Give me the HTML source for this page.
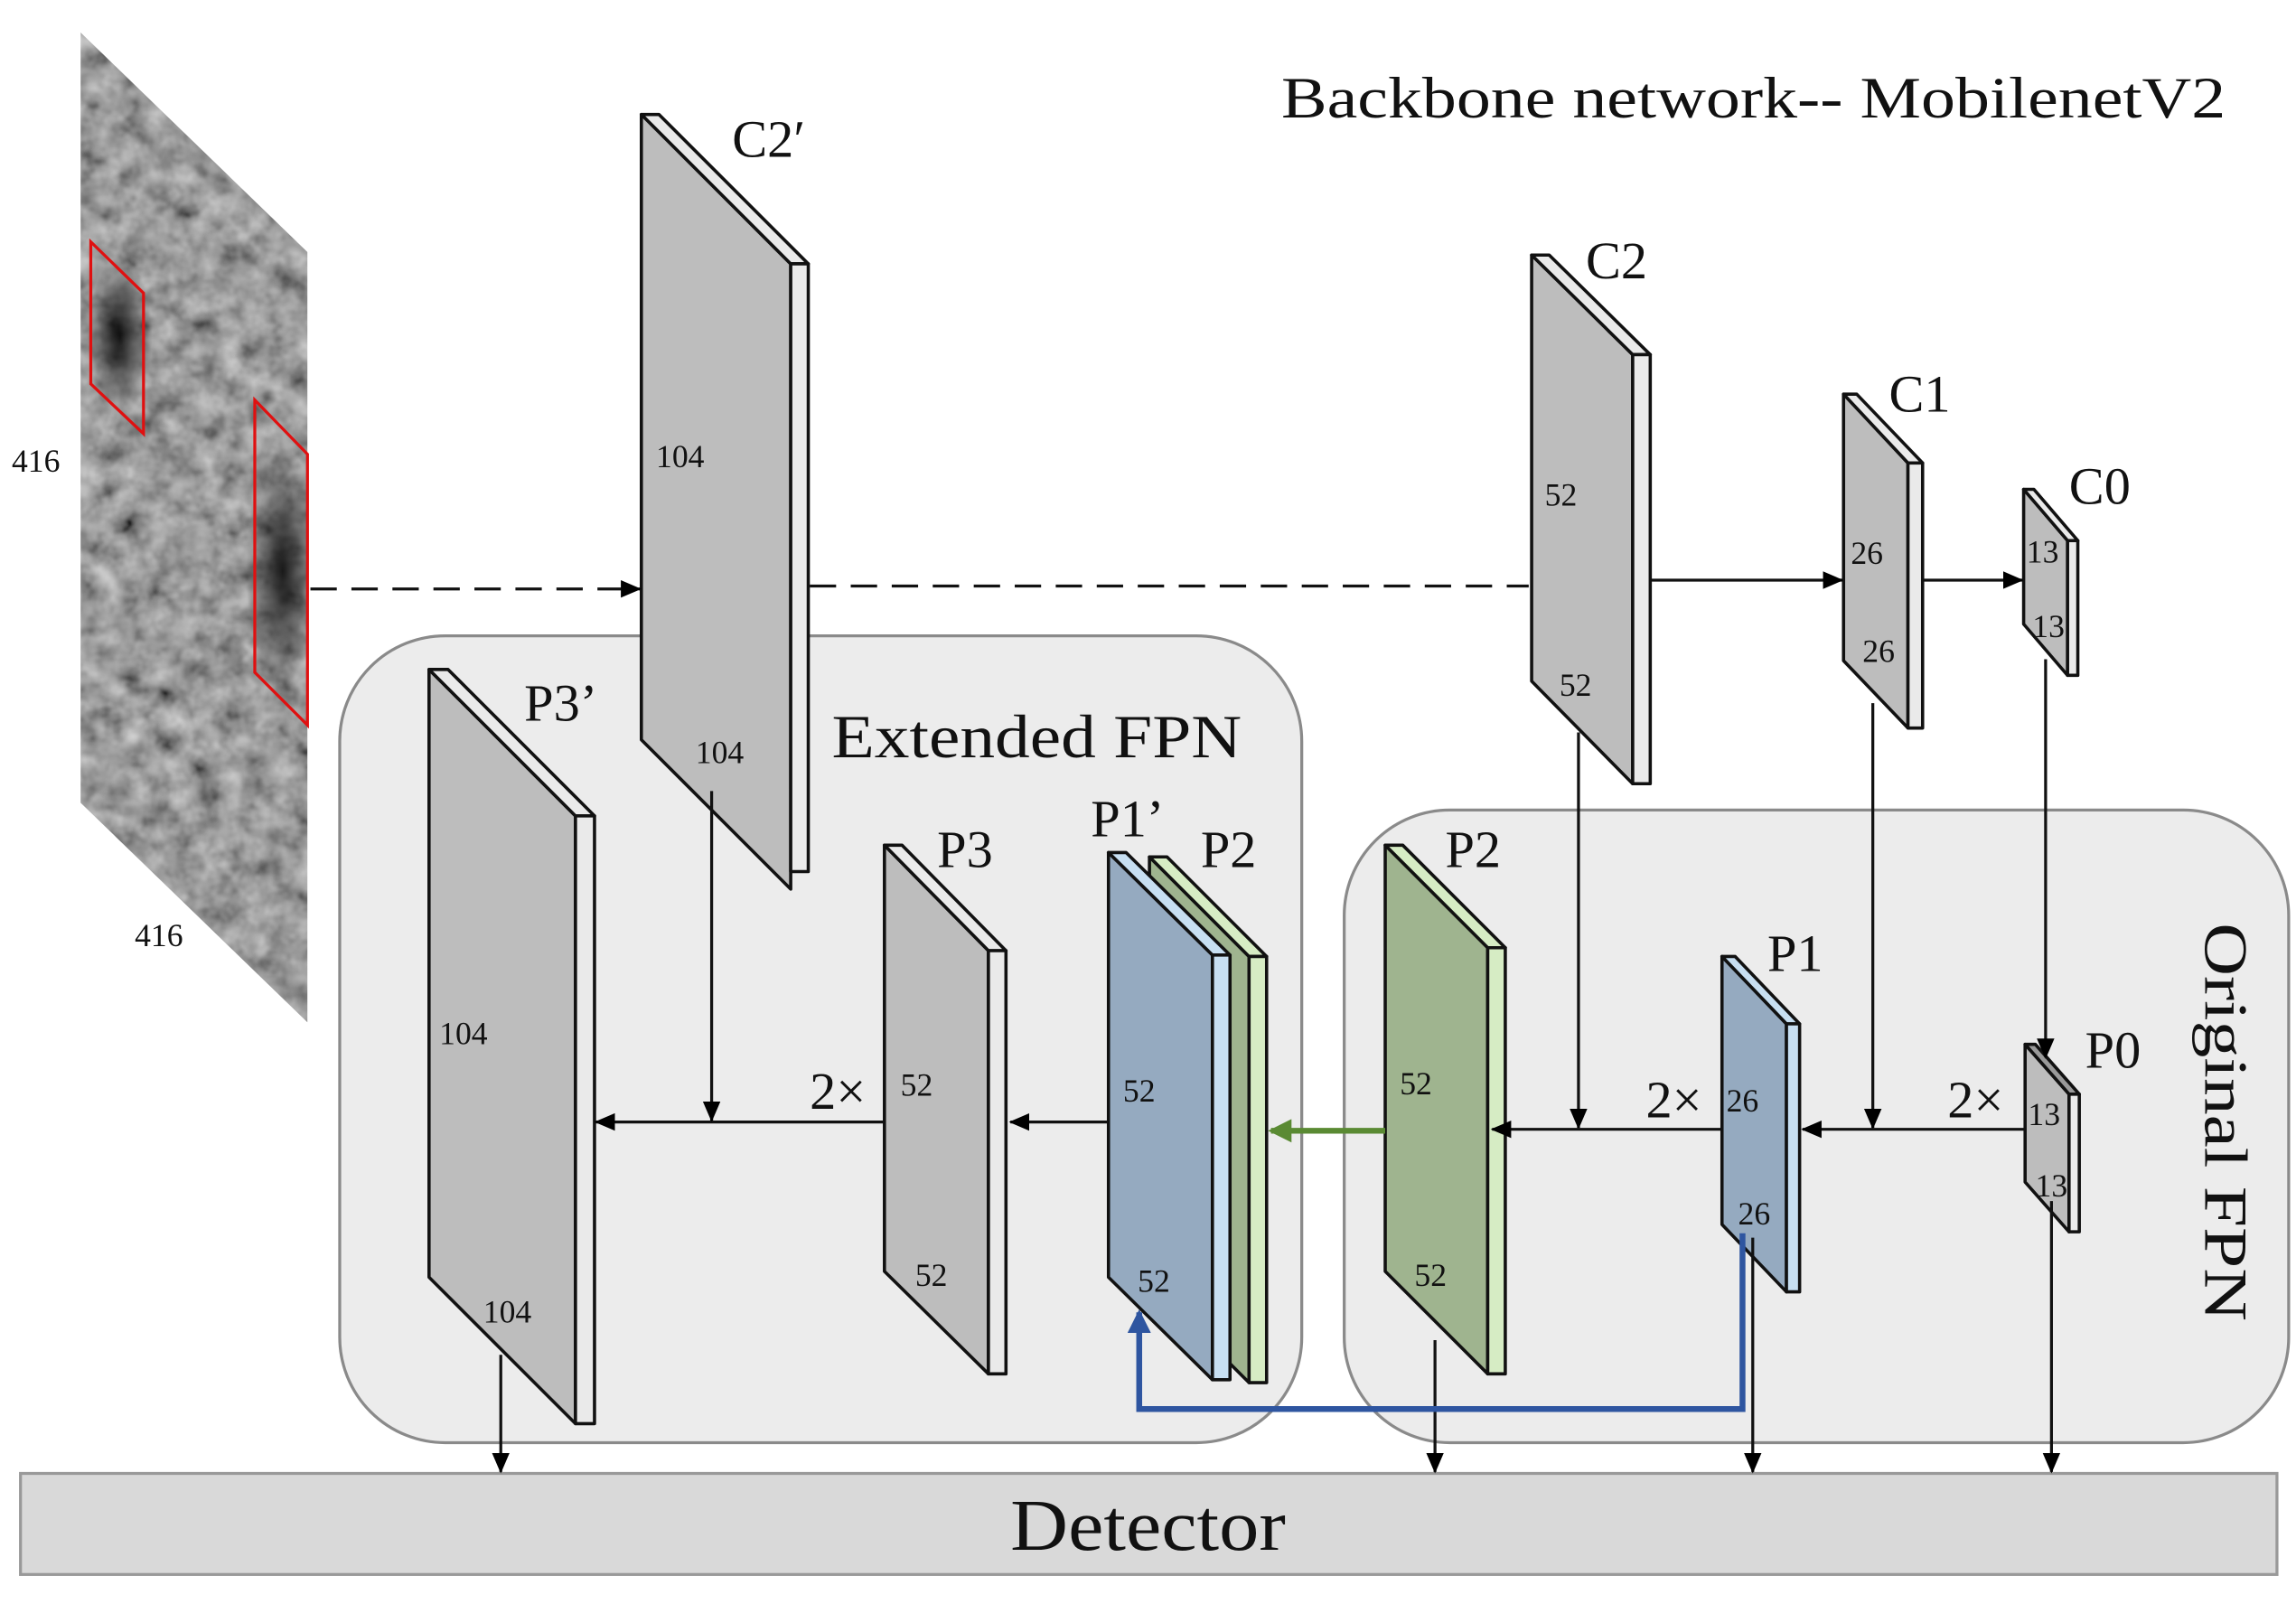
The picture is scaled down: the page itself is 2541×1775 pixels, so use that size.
<!DOCTYPE html>
<html><head><meta charset="utf-8"><style>
html,body{margin:0;padding:0;background:#fff;}
svg{display:block;}
text{font-family:"Liberation Serif",serif;fill:#111;}
</style></head><body>
<svg width="2541" height="1775" viewBox="0 0 1568 1095" xmlns="http://www.w3.org/2000/svg">
<defs>
<marker id="ah" markerWidth="14" markerHeight="14" refX="13" refY="7" orient="auto" markerUnits="userSpaceOnUse"><path d="M0,1 L14,7 L0,13 Z" fill="#000"/></marker>
<marker id="ahb" markerWidth="16" markerHeight="16" refX="14" refY="8" orient="auto" markerUnits="userSpaceOnUse"><path d="M0,0 L16,8 L0,16 Z" fill="#2e55a0"/></marker>
<marker id="ahg" markerWidth="16" markerHeight="16" refX="14" refY="8" orient="auto" markerUnits="userSpaceOnUse"><path d="M0,0 L16,8 L0,16 Z" fill="#5a8a33"/></marker>
<filter id="noise" x="0" y="0" width="100%" height="100%">
<feTurbulence type="fractalNoise" baseFrequency="0.06" numOctaves="3" seed="4"/>
<feColorMatrix type="matrix" values="0.33 0.33 0.33 0 0  0.33 0.33 0.33 0 0  0.33 0.33 0.33 0 0  0 0 0 0 1"/>
<feComponentTransfer><feFuncR type="linear" slope="1.1" intercept="-0.22"/><feFuncG type="linear" slope="1.1" intercept="-0.22"/><feFuncB type="linear" slope="1.1" intercept="-0.22"/></feComponentTransfer>
</filter>
<clipPath id="imgclip"><polygon points="55,22 210,172 210,698 55,548"/></clipPath>
<radialGradient id="dk" cx="0.5" cy="0.5" r="0.5"><stop offset="0" stop-color="#000" stop-opacity="0.85"/><stop offset="1" stop-color="#000" stop-opacity="0"/></radialGradient>
</defs>

<g clip-path="url(#imgclip)">
<rect x="55" y="22" width="155" height="676" filter="url(#noise)"/>
<ellipse cx="82" cy="230" rx="22" ry="55" fill="url(#dk)"/>
<ellipse cx="193" cy="390" rx="25" ry="85" fill="url(#dk)"/>
</g>
<polygon points="62,165 98,200 98,296 62,262" fill="none" stroke="#e01010" stroke-width="2"/>
<polygon points="174,273 210,310 210,495 174,459" fill="none" stroke="#e01010" stroke-width="2"/>
<text x="8" y="322" font-size="22">416</text>
<text x="92" y="646" font-size="22">416</text>

<rect x="232" y="434" width="657" height="551" rx="72" fill="#ececec" stroke="#8a8a8a" stroke-width="2"/>
<rect x="918" y="553" width="645" height="432" rx="72" fill="#ececec" stroke="#8a8a8a" stroke-width="2"/>
<rect x="14" y="1006" width="1541" height="69" fill="#d9d9d9" stroke="#999" stroke-width="2"/>
<text x="690" y="1058" font-size="50" textLength="188" lengthAdjust="spacingAndGlyphs">Detector</text>

<g stroke="#111" stroke-width="2.2" stroke-linejoin="round">
<polygon points="438,78 540,180 540,607 438,505" fill="#bdbdbd"/>
<polygon points="438,78 450,78 552,180 540,180" fill="#eaeaea"/>
<polygon points="540,180 552,180 552,595 540,595" fill="#eaeaea"/>
<polygon points="293,457 393,557 393,972 293,872" fill="#bdbdbd"/>
<polygon points="293,457 306,457 406,557 393,557" fill="#eaeaea"/>
<polygon points="393,557 406,557 406,972 393,972" fill="#eaeaea"/>
<polygon points="604,577 675,649 675,938 604,868" fill="#bdbdbd"/>
<polygon points="604,577 616,577 687,649 675,649" fill="#eaeaea"/>
<polygon points="675,649 687,649 687,938 675,938" fill="#eaeaea"/>
<polygon points="785,585 853,653 853,944 785,876" fill="#9fb48f"/>
<polygon points="785,585 797,585 865,653 853,653" fill="#d6ecc4"/>
<polygon points="853,653 865,653 865,944 853,944" fill="#d6ecc4"/>
<polygon points="757,582 828,652 828,942 757,872" fill="#95aac0"/>
<polygon points="757,582 769,582 840,652 828,652" fill="#c7dff2"/>
<polygon points="828,652 840,652 840,942 828,942" fill="#c7dff2"/>
<polygon points="1046,174 1115,242 1115,535 1046,465" fill="#bdbdbd"/>
<polygon points="1046,174 1058,174 1127,242 1115,242" fill="#eaeaea"/>
<polygon points="1115,242 1127,242 1127,535 1115,535" fill="#eaeaea"/>
<polygon points="1259,269 1303,316 1303,497 1259,451" fill="#bdbdbd"/>
<polygon points="1259,269 1268,269 1313,316 1303,316" fill="#eaeaea"/>
<polygon points="1303,316 1313,316 1313,497 1303,497" fill="#eaeaea"/>
<polygon points="1382,334 1412,369 1412,461 1382,426" fill="#bdbdbd"/>
<polygon points="1382,334 1389,334 1419,369 1412,369" fill="#eaeaea"/>
<polygon points="1412,369 1419,369 1419,461 1412,461" fill="#eaeaea"/>
<polygon points="946,577 1016,647 1016,938 946,868" fill="#9fb48f"/>
<polygon points="946,577 958,577 1028,647 1016,647" fill="#d6ecc4"/>
<polygon points="1016,647 1028,647 1028,938 1016,938" fill="#d6ecc4"/>
<polygon points="1176,653 1220,699 1220,882 1176,836" fill="#95aac0"/>
<polygon points="1176,653 1185,653 1229,699 1220,699" fill="#c7dff2"/>
<polygon points="1220,699 1229,699 1229,882 1220,882" fill="#c7dff2"/>
<polygon points="1383,713 1413,747 1413,841 1383,807" fill="#bdbdbd"/>
<polygon points="1383,713 1390,713 1420,747 1413,747" fill="#9a9a9a"/>
<polygon points="1413,747 1420,747 1420,841 1413,841" fill="#eaeaea"/>
</g>

<g stroke="#111" stroke-width="2" fill="none">
<line x1="212" y1="402" x2="437" y2="402" stroke-dasharray="18,10" marker-end="url(#ah)"/>
<line x1="553" y1="400" x2="1044" y2="400" stroke-dasharray="18,10"/>
<line x1="1128" y1="396" x2="1258" y2="396" marker-end="url(#ah)"/>
<line x1="1314" y1="396" x2="1381" y2="396" marker-end="url(#ah)"/>
<line x1="1078" y1="500" x2="1078" y2="770" marker-end="url(#ah)"/>
<line x1="1279" y1="480" x2="1279" y2="770" marker-end="url(#ah)"/>
<line x1="1397" y1="450" x2="1397" y2="722" marker-end="url(#ah)"/>
<line x1="1383" y1="771" x2="1231" y2="771" marker-end="url(#ah)"/>
<line x1="1176" y1="771" x2="1019" y2="771" marker-end="url(#ah)"/>
<line x1="757" y1="766" x2="690" y2="766" marker-end="url(#ah)"/>
<line x1="604" y1="766" x2="407" y2="766" marker-end="url(#ah)"/>
<line x1="486" y1="540" x2="486" y2="765" marker-end="url(#ah)"/>
<line x1="342" y1="925" x2="342" y2="1005" marker-end="url(#ah)"/>
<line x1="980" y1="915" x2="980" y2="1005" marker-end="url(#ah)"/>
<line x1="1197" y1="845" x2="1197" y2="1005" marker-end="url(#ah)"/>
<line x1="1401" y1="820" x2="1401" y2="1005" marker-end="url(#ah)"/>
</g>
<line x1="946" y1="772" x2="868" y2="772" stroke="#5a8a33" stroke-width="4" marker-end="url(#ahg)"/>
<polyline points="1190,842 1190,962 778,962 778,896" fill="none" stroke="#2e55a0" stroke-width="4" marker-end="url(#ahb)"/>

<text x="875" y="80" font-size="40" textLength="645" lengthAdjust="spacingAndGlyphs">Backbone network-- MobilenetV2</text>
<text x="568" y="517" font-size="42" textLength="280" lengthAdjust="spacingAndGlyphs">Extended FPN</text>
<text transform="translate(1506,630) rotate(90)" font-size="42" textLength="272" lengthAdjust="spacingAndGlyphs">Original  FPN</text>
<g font-size="36">
<text x="500" y="107">C2′</text>
<text x="358" y="492">P3’</text>
<text x="640" y="592">P3</text>
<text x="745" y="571">P1’</text>
<text x="820" y="592">P2</text>
<text x="1083" y="190">C2</text>
<text x="1290" y="281">C1</text>
<text x="1413" y="344">C0</text>
<text x="987" y="592">P2</text>
<text x="1207" y="663">P1</text>
<text x="1424" y="729">P0</text>
<text x="553" y="757">2×</text>
<text x="1124" y="763">2×</text>
<text x="1330" y="763">2×</text>
</g>
<g font-size="22">
<text x="448" y="319">104</text>
<text x="475" y="521">104</text>
<text x="300" y="713">104</text>
<text x="330" y="903">104</text>
<text x="615" y="748">52</text>
<text x="625" y="878">52</text>
<text x="767" y="752">52</text>
<text x="777" y="882">52</text>
<text x="956" y="747">52</text>
<text x="966" y="878">52</text>
<text x="1055" y="345">52</text>
<text x="1065" y="475">52</text>
<text x="1264" y="385">26</text>
<text x="1272" y="452">26</text>
<text x="1179" y="759">26</text>
<text x="1187" y="836">26</text>
<text x="1384" y="384">13</text>
<text x="1388" y="435">13</text>
<text x="1385" y="768">13</text>
<text x="1390" y="817">13</text>
</g>
</svg>
</body></html>
